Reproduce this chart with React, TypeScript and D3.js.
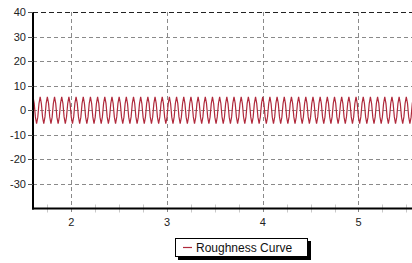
import React, { useEffect, useRef } from 'react'
import * as d3 from 'd3'

// y ticks and x ticks shown on the chart
const yTicks = [40, 30, 20, 10, 0, -10, -20, -30]
const xTicks = [2, 3, 4, 5]
const seriesName = 'Roughness Curve'

// roughness samples: first sample at x = 1.6, one sample every 0.0125
const xStart = 1.6
const xStep = 0.0125
const roughness = [
  5.5, 2.8, -2.7, -5.5, -2.8, 2.7, 5.5, 2.7, -2.8, -5.5, -2.7, 2.8,
  5.5, 2.8, -2.7, -5.5, -2.8, 2.7, 5.5, 2.7, -2.8, -5.5, -2.7, 2.8,
  5.5, 2.8, -2.7, -5.5, -2.8, 2.7, 5.5, 2.7, -2.8, -5.5, -2.7, 2.8,
  5.5, 2.8, -2.7, -5.5, -2.8, 2.7, 5.5, 2.7, -2.8, -5.5, -2.7, 2.8,
  5.5, 2.8, -2.7, -5.5, -2.8, 2.7, 5.5, 2.7, -2.8, -5.5, -2.7, 2.8,
  5.5, 2.8, -2.7, -5.5, -2.8, 2.7, 5.5, 2.7, -2.8, -5.5, -2.7, 2.8,
  5.5, 2.8, -2.7, -5.5, -2.8, 2.7, 5.5, 2.7, -2.8, -5.5, -2.7, 2.8,
  5.5, 2.8, -2.7, -5.5, -2.8, 2.7, 5.5, 2.7, -2.8, -5.5, -2.7, 2.8,
  5.5, 2.8, -2.7, -5.5, -2.8, 2.7, 5.5, 2.7, -2.8, -5.5, -2.7, 2.8,
  5.5, 2.8, -2.7, -5.5, -2.8, 2.7, 5.5, 2.7, -2.8, -5.5, -2.7, 2.8,
  5.5, 2.8, -2.7, -5.5, -2.8, 2.7, 5.5, 2.7, -2.8, -5.5, -2.7, 2.8,
  5.5, 2.8, -2.7, -5.5, -2.8, 2.7, 5.5, 2.7, -2.8, -5.5, -2.7, 2.8,
  5.5, 2.8, -2.7, -5.5, -2.8, 2.7, 5.5, 2.7, -2.8, -5.5, -2.7, 2.8,
  5.5, 2.8, -2.7, -5.5, -2.8, 2.7, 5.5, 2.7, -2.8, -5.5, -2.7, 2.8,
  5.5, 2.8, -2.7, -5.5, -2.8, 2.7, 5.5, 2.7, -2.8, -5.5, -2.7, 2.8,
  5.5, 2.8, -2.7, -5.5, -2.8, 2.7, 5.5, 2.7, -2.8, -5.5, -2.7, 2.8,
  5.5, 2.8, -2.7, -5.5, -2.8, 2.7, 5.5, 2.7, -2.8, -5.5, -2.7, 2.8,
  5.5, 2.8, -2.7, -5.5, -2.8, 2.7, 5.5, 2.7, -2.8, -5.5, -2.7, 2.8,
  5.5, 2.8, -2.7, -5.5, -2.8, 2.7, 5.5, 2.7, -2.8, -5.5, -2.7, 2.8,
  5.5, 2.8, -2.7, -5.5, -2.8, 2.7, 5.5, 2.7, -2.8, -5.5, -2.7, 2.8,
  5.5, 2.8, -2.7, -5.5, -2.8, 2.7, 5.5, 2.7, -2.8, -5.5, -2.7, 2.8,
  5.5, 2.8, -2.7, -5.5, -2.8, 2.7, 5.5, 2.7, -2.8, -5.5, -2.7, 2.8,
  5.5, 2.8, -2.7, -5.5, -2.8, 2.7, 5.5, 2.7, -2.8, -5.5, -2.7, 2.8,
  5.5, 2.8, -2.7, -5.5, -2.8, 2.7, 5.5, 2.7, -2.8, -5.5, -2.7, 2.8,
  5.5, 2.8, -2.7, -5.5, -2.8, 2.7, 5.5, 2.7, -2.8, -5.5, -2.7, 2.8,
  5.5, 2.8, -2.7, -5.5, -2.8, 2.7, 5.5, 2.7, -2.8, -5.5, -2.7, 2.8,
  5.5, 2.8, -2.7, -5.5, -2.8, 2.7, 5.5, 2.7, -2.8, -5.5, -2.7, 2.8,
]

const W = 412
const H = 263

export default function App() {
  const ref = useRef<SVGSVGElement>(null)

  useEffect(() => {
    const svg = d3.select(ref.current)
    svg.selectAll('*').remove()

    const left = 33, top = 12, bottom = 208.5, right = 413
    const font = 'Arial, "Liberation Sans", sans-serif'

    const x = d3.scaleLinear().domain([1.6, 5.57]).range([left, right])
    const y = d3.scaleLinear().domain([-40, 40]).range([bottom, top])

    svg.append('rect').attr('width', W).attr('height', H).attr('fill', '#fff')

    // horizontal grid
    svg.append('g').selectAll('line')
      .data(yTicks.filter(d => d !== 40)).enter()
      .append('line')
      .attr('x1', left).attr('x2', W)
      .attr('y1', d => Math.round(y(d)) + 0.5).attr('y2', d => Math.round(y(d)) + 0.5)
      .attr('stroke', '#8a8a8a').attr('stroke-dasharray', '4,3')

    // top dashed border at 40
    svg.append('line')
      .attr('x1', left).attr('x2', W)
      .attr('y1', y(40) + 0.5).attr('y2', y(40) + 0.5)
      .attr('stroke', '#222').attr('stroke-dasharray', '5,3')

    // vertical grid
    svg.append('g').selectAll('line')
      .data(xTicks).enter()
      .append('line')
      .attr('x1', d => Math.round(x(d)) + 0.5).attr('x2', d => Math.round(x(d)) + 0.5)
      .attr('y1', top).attr('y2', bottom + 6)
      .attr('stroke', '#8a8a8a').attr('stroke-dasharray', '4,3')

    // minor x ticks every 0.25
    const minor = d3.range(1.75, 5.6, 0.25).filter(d => Math.abs(d - Math.round(d)) > 0.01)
    svg.append('g').selectAll('line')
      .data(minor).enter()
      .append('line')
      .attr('x1', d => Math.round(x(d)) + 0.5).attr('x2', d => Math.round(x(d)) + 0.5)
      .attr('y1', bottom - 4).attr('y2', bottom + 4)
      .attr('stroke', '#c8c8c8')

    // the curve
    svg.append('clipPath').attr('id', 'plot')
      .append('rect').attr('x', left).attr('y', top).attr('width', W - left).attr('height', bottom - top)

    const line = d3.line<number>()
      .x((d, i) => x(xStart + i * xStep))
      .y(d => y(d))

    svg.append('path')
      .datum(roughness)
      .attr('clip-path', 'url(#plot)')
      .attr('d', line)
      .attr('fill', 'none')
      .attr('stroke', '#b02a3c')
      .attr('stroke-width', 1.2)

    // axes lines
    svg.append('line')
      .attr('x1', left).attr('x2', left).attr('y1', top).attr('y2', bottom + 1)
      .attr('stroke', '#000').attr('stroke-width', 2)
    svg.append('line')
      .attr('x1', left - 1).attr('x2', W).attr('y1', bottom).attr('y2', bottom)
      .attr('stroke', '#000').attr('stroke-width', 2)

    // y ticks and labels
    const yg = svg.append('g').selectAll('g').data(yTicks).enter().append('g')
    yg.append('line')
      .attr('x1', left - 5).attr('x2', left)
      .attr('y1', d => Math.round(y(d)) + 0.5).attr('y2', d => Math.round(y(d)) + 0.5)
      .attr('stroke', '#555')
    yg.append('text')
      .attr('x', left - 7).attr('y', d => y(d) + 4)
      .attr('text-anchor', 'end')
      .attr('font-family', font).attr('font-size', 11)
      .attr('fill', '#222')
      .text(d => d)

    // x labels
    svg.append('g').selectAll('text')
      .data(xTicks).enter()
      .append('text')
      .attr('x', d => x(d)).attr('y', 226)
      .attr('text-anchor', 'middle')
      .attr('font-family', font).attr('font-size', 11)
      .attr('fill', '#222')
      .text(d => d)

    // legend
    const lg = svg.append('g')
    lg.append('rect').attr('x', 178).attr('y', 241).attr('width', 133).attr('height', 19).attr('fill', '#000')
    lg.append('rect').attr('x', 175.5).attr('y', 238.5).attr('width', 132).attr('height', 18)
      .attr('fill', '#fff').attr('stroke', '#000')
    lg.append('line').attr('x1', 183).attr('x2', 192).attr('y1', 247.5).attr('y2', 247.5)
      .attr('stroke', '#b02a3c').attr('stroke-width', 1.2)
    lg.append('text').attr('x', 196).attr('y', 252)
      .attr('font-family', font).attr('font-size', 12).attr('fill', '#111')
      .text(seriesName)
  }, [])

  return <svg ref={ref} width={W} height={H} style={{ position: 'absolute', left: 0, top: 0 }} />
}
